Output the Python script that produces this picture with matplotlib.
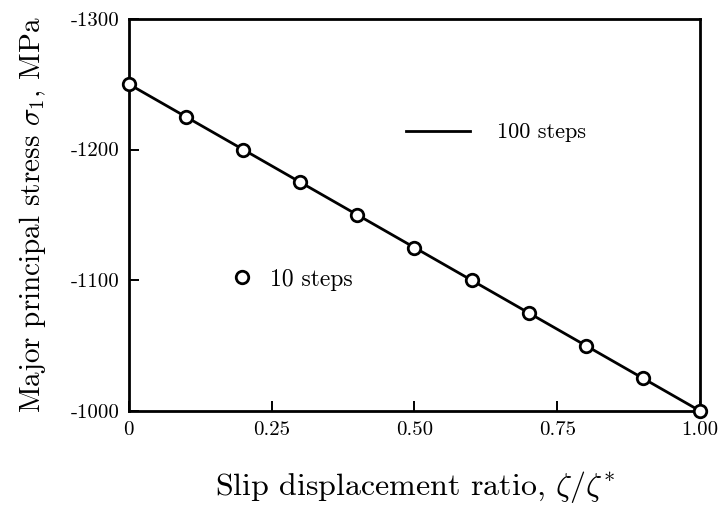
import matplotlib
matplotlib.use("Agg")
import matplotlib.pyplot as plt
from matplotlib.lines import Line2D

plt.rcParams['font.family'] = ['cmr10', 'Liberation Serif', 'DejaVu Serif']
plt.rcParams['mathtext.fontset'] = 'cm'
plt.rcParams['axes.unicode_minus'] = False

ratio = [0.0, 0.1, 0.2, 0.3, 0.4, 0.5, 0.6, 0.7, 0.8, 0.9, 1.0]
stress_10 = [-1250, -1225, -1200, -1175, -1150, -1125, -1100, -1075, -1050, -1025, -1000]
ratio_100 = [0.0, 1.0]
stress_100 = [-1250, -1000]
xticks = [0, 0.25, 0.50, 0.75, 1.00]
xticklabels = ["0", "0.25", "0.50", "0.75", "1.00"]
yticks = [-1000, -1100, -1200, -1300]
yticklabels = ["-1000", "-1100", "-1200", "-1300"]

fig = plt.figure(figsize=(7.24, 5.08), dpi=100)
ax = fig.add_axes([0.178, 0.191, 0.789, 0.772])

ax.plot(ratio_100, stress_100, color='black', lw=2.0, zorder=2)
ax.plot(ratio, stress_10, linestyle='none', marker='o', ms=9, mfc='white',
        mec='black', mew=2.0, zorder=3, clip_on=False)

ax.set_xlim(0, 1.0)
ax.set_ylim(-1000, -1300)
ax.set_xticks(xticks)
ax.set_xticklabels(xticklabels)
ax.set_yticks(yticks)
ax.set_yticklabels(yticklabels)
ax.tick_params(direction='in', length=7, width=1.4, labelsize=15,
               top=False, right=False, pad=7)
for s in ax.spines.values():
    s.set_linewidth(2.0)

ax.set_xlabel(r"Slip displacement ratio, $\zeta/\zeta^{*}$", fontsize=23, labelpad=22)
ax.set_ylabel(r"Major principal stress $\sigma_1$, MPa", fontsize=21, labelpad=16)

h1 = Line2D([], [], color='black', lw=2.0)
leg1 = ax.legend([h1], ["100 steps"], loc='center left', bbox_to_anchor=(0.45, 0.71),
                 frameon=False, fontsize=16, handlelength=2.9, handletextpad=1.2)
ax.add_artist(leg1)
h2 = Line2D([], [], linestyle='none', marker='o', ms=9, mfc='white', mec='black', mew=2.0)
ax.legend([h2], ["10 steps"], loc='center left', bbox_to_anchor=(0.14, 0.335),
          frameon=False, fontsize=17, handlelength=1.0, handletextpad=0.7)

fig.savefig("out.png", dpi=100)
